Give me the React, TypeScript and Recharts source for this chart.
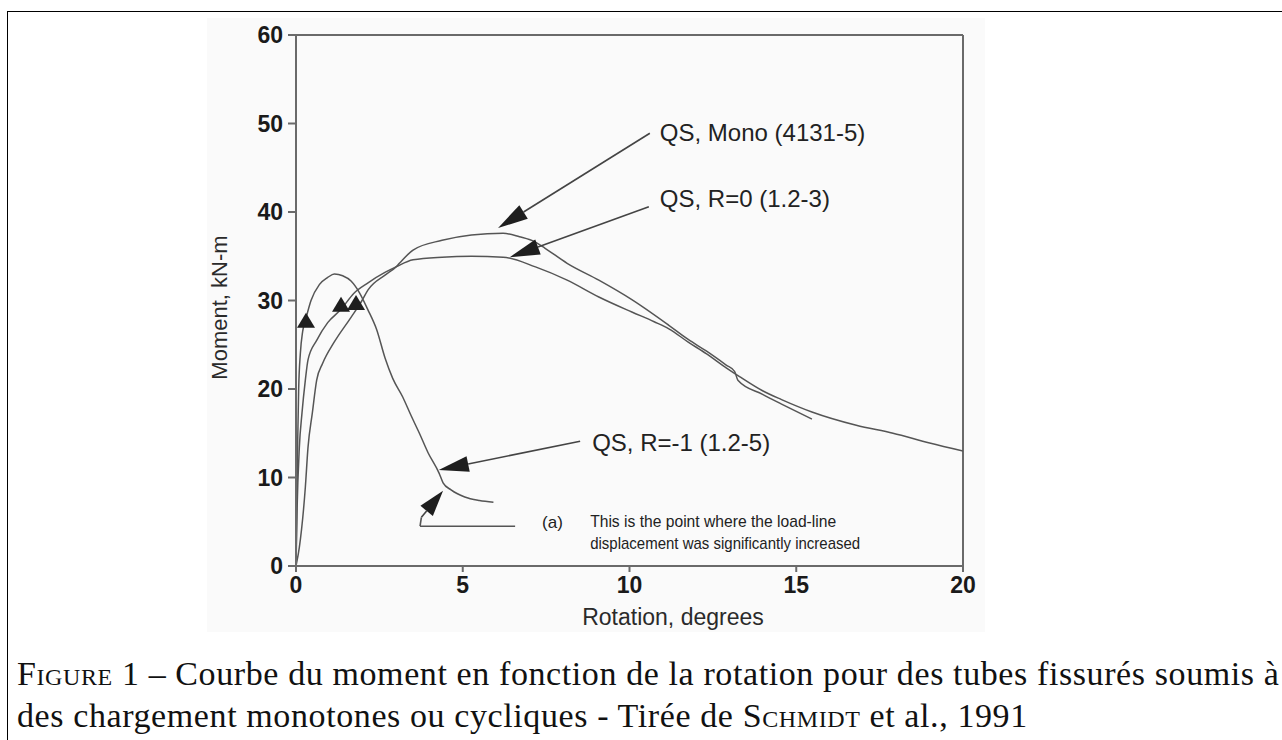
import React from 'react';
import {
  ComposedChart,
  Line,
  Scatter,
  XAxis,
  YAxis,
  ReferenceLine,
  ReferenceDot,
  Label,
} from 'recharts';

// ---------- data ----------
const xTicks = [0, 5, 10, 15, 20];
const yTicks = [0, 10, 20, 30, 40, 50, 60];

// QS, Mono (4131-5)
const monoSeries = [
  { x: 0, y: 0 }, { x: 0.1, y: 2.1 }, { x: 0.28, y: 8.9 }, { x: 0.36, y: 13.4 },
  { x: 0.49, y: 17.3 }, { x: 0.62, y: 21 }, { x: 0.8, y: 22.9 }, { x: 1.13, y: 25.2 },
  { x: 1.65, y: 28.1 }, { x: 1.98, y: 30 }, { x: 2.16, y: 31.2 }, { x: 2.68, y: 32.9 },
  { x: 3.0, y: 33.8 }, { x: 3.1, y: 34.2 }, { x: 3.51, y: 35.7 }, { x: 4.38, y: 36.8 },
  { x: 5.26, y: 37.4 }, { x: 6.21, y: 37.6 }, { x: 6.7, y: 37.2 }, { x: 7.18, y: 36.6 },
  { x: 7.47, y: 35.9 }, { x: 8.13, y: 34.2 }, { x: 9.08, y: 32.3 }, { x: 10.07, y: 30.1 },
  { x: 11.18, y: 27.2 }, { x: 11.76, y: 25.6 }, { x: 12.3, y: 24.3 }, { x: 12.9, y: 22.7 },
  { x: 13.15, y: 22.0 }, { x: 13.25, y: 21.0 }, { x: 13.99, y: 19.4 }, { x: 14.56, y: 18.3 },
  { x: 15.47, y: 16.6 },
];

// QS, R=0 (1.2-3)
const r0Series = [
  { x: 0, y: 0 }, { x: 0.03, y: 6 }, { x: 0.1, y: 13.4 }, { x: 0.18, y: 17.3 },
  { x: 0.28, y: 21 }, { x: 0.36, y: 23.3 }, { x: 0.62, y: 25.5 }, { x: 0.95, y: 27.5 },
  { x: 1.35, y: 29.0 }, { x: 1.73, y: 30.8 }, { x: 2.16, y: 32 }, { x: 2.68, y: 33.2 },
  { x: 3.0, y: 33.8 }, { x: 3.51, y: 34.6 }, { x: 4.38, y: 34.9 }, { x: 5.26, y: 35.0 },
  { x: 6.21, y: 34.9 }, { x: 7.18, y: 33.8 }, { x: 8.13, y: 32.3 }, { x: 9.08, y: 30.4 },
  { x: 10.07, y: 28.7 }, { x: 10.74, y: 27.6 }, { x: 11.18, y: 26.8 }, { x: 11.76, y: 25.3 },
  { x: 12.3, y: 24.0 }, { x: 12.9, y: 22.4 }, { x: 13.3, y: 21.4 }, { x: 13.99, y: 19.8 },
  { x: 14.56, y: 18.8 }, { x: 15.47, y: 17.4 }, { x: 16.8, y: 15.9 }, { x: 17.9, y: 15.0 },
  { x: 19.0, y: 13.9 }, { x: 20, y: 13.0 },
];

// QS, R=-1 (1.2-5)
const rm1Series = [
  { x: 0, y: 0 }, { x: 0.02, y: 6 }, { x: 0.05, y: 14 }, { x: 0.08, y: 20 },
  { x: 0.13, y: 24 }, { x: 0.2, y: 26.5 }, { x: 0.3, y: 28 }, { x: 0.45, y: 30 },
  { x: 0.7, y: 31.8 }, { x: 0.95, y: 32.6 }, { x: 1.15, y: 33 }, { x: 1.4, y: 32.8 },
  { x: 1.65, y: 32.2 }, { x: 1.9, y: 30.9 }, { x: 2.15, y: 29 }, { x: 2.42, y: 26.7 },
  { x: 2.67, y: 23.5 }, { x: 2.9, y: 21.2 }, { x: 3.2, y: 19.1 }, { x: 3.45, y: 17 },
  { x: 3.7, y: 15 }, { x: 3.96, y: 12.8 }, { x: 4.29, y: 10.5 }, { x: 4.41, y: 9.4 },
  { x: 4.65, y: 8.6 }, { x: 5.06, y: 7.8 }, { x: 5.5, y: 7.4 }, { x: 5.92, y: 7.2 },
];

// (a) markers on the curves
const markerPoints = [
  { x: 0.3, y: 27.6 },
  { x: 1.35, y: 29.4 },
  { x: 1.8, y: 29.6 },
];

// ---------- annotations ----------
const seriesLabels = ['QS, Mono (4131-5)', 'QS, R=0 (1.2-3)', 'QS, R=-1 (1.2-5)'];
const labelAnchors = [
  { x: 10.91, y: 49.0 },
  { x: 10.91, y: 41.5 },
  { x: 8.88, y: 13.9 },
];
const arrowSegments = [
  [{ x: 10.61, y: 48.9 }, { x: 6.06, y: 38.2 }],
  [{ x: 10.58, y: 40.6 }, { x: 6.41, y: 34.9 }],
  [{ x: 8.52, y: 14.1 }, { x: 4.28, y: 10.85 }],
];
const noteTag = '(a)';
const noteTagAnchor = { x: 7.38, y: 4.86 };
const noteLines = ['This is the point where the load-line', 'displacement was significantly increased'];
const noteAnchors = [
  { x: 8.82, y: 5.08 },
  { x: 8.82, y: 2.49 },
];
const noteWidths = [246, 270];
const legendBar = [{ x: 6.57, y: 4.5 }, { x: 3.72, y: 4.5 }];
const legendRise = [{ x: 3.72, y: 4.5 }, { x: 3.76, y: 5.5 }];
const legendArrow = [{ x: 3.76, y: 5.5 }, { x: 4.41, y: 8.5 }];

const xTitle = 'Rotation, degrees';
const yTitle = 'Moment, kN-m';

// ---------- styles ----------
const SANS = '"Liberation Sans", Arial, sans-serif';
const CURVE = '#555';
const AXIS = '#6a6a6a';

const arrowShape = (headLen: number, headW: number) => (p: any) => {
  const { x1, y1, x2, y2 } = p;
  const dx = x2 - x1;
  const dy = y2 - y1;
  const L = Math.hypot(dx, dy) || 1;
  const ux = dx / L;
  const uy = dy / L;
  const bx = x2 - ux * headLen;
  const by = y2 - uy * headLen;
  const nx = -uy;
  const ny = ux;
  return (
    <g>
      <line x1={x1} y1={y1} x2={bx} y2={by} stroke="#444" strokeWidth={1.6} />
      <polygon
        points={`${x2},${y2} ${bx + nx * headW},${by + ny * headW} ${bx - nx * headW},${by - ny * headW}`}
        fill="#1e1e1e"
      />
    </g>
  );
};

const plainLine = (p: any) => (
  <line x1={p.x1} y1={p.y1} x2={p.x2} y2={p.y2} stroke="#555" strokeWidth={1.6} />
);

const textShape = (txt: string, size: number, width?: number) => (p: any) => (
  <text
    x={p.cx}
    y={p.cy}
    dominantBaseline="central"
    fontFamily={SANS}
    fontSize={size}
    fill="#222"
    {...(width ? { textLength: width, lengthAdjust: 'spacingAndGlyphs' } : {})}
  >
    {txt}
  </text>
);

const triangle = (p: any) => {
  const { cx, cy } = p;
  return (
    <polygon
      points={`${cx},${cy - 9} ${cx - 9},${cy + 6} ${cx + 9},${cy + 6}`}
      fill="#1e1e1e"
    />
  );
};

export default function App() {
  return (
    <div
      style={{
        position: 'absolute',
        left: 0,
        top: 0,
        width: 1282,
        height: 740,
        overflow: 'hidden',
        background: '#fff',
      }}
    >
      <div
        style={{
          position: 'absolute',
          left: 207,
          top: 18,
          width: 778,
          height: 614,
          background: '#fafafa',
        }}
      />
      <div
        style={{
          position: 'absolute',
          left: 7,
          top: 11,
          width: 1275,
          height: 729,
          boxSizing: 'border-box',
          borderTop: '1px solid #000',
          borderLeft: '1px solid #000',
        }}
      />
      <div style={{ position: 'absolute', left: 0, top: 0 }}>
        <ComposedChart
          width={1282}
          height={740}
          margin={{ top: 35, right: 319, bottom: 114, left: 216 }}
        >
          <XAxis
            type="number"
            dataKey="x"
            domain={[0, 20]}
            ticks={xTicks}
            allowDataOverflow
            height={60}
            stroke={AXIS}
            strokeWidth={2}
            tickSize={6}
            tickMargin={5}
            tick={{ fill: '#1a1a1a', fontSize: 23, fontWeight: 700, fontFamily: SANS }}
          >
            <Label
              content={({ viewBox }: any) => {
                const cx = viewBox.x + 377;
                const cy = viewBox.y + 51;
                return (
                  <text
                    x={cx}
                    y={cy}
                    textAnchor="middle"
                    dominantBaseline="central"
                    fontFamily={SANS}
                    fontSize={23}
                    fill="#2a2a2a"
                  >
                    {xTitle}
                  </text>
                );
              }}
            />
          </XAxis>
          <YAxis
            type="number"
            domain={[0, 60]}
            ticks={yTicks}
            allowDataOverflow
            width={80}
            stroke={AXIS}
            strokeWidth={2}
            tickSize={8}
            tickMargin={5}
            tick={{ fill: '#1a1a1a', fontSize: 23, fontWeight: 700, fontFamily: SANS }}
          >
            <Label
              content={({ viewBox }: any) => {
                const cx = viewBox.x + 3;
                const cy = viewBox.y + viewBox.height / 2 + 7;
                return (
                  <text
                    x={cx}
                    y={cy}
                    transform={`rotate(-90 ${cx} ${cy})`}
                    textAnchor="middle"
                    dominantBaseline="central"
                    fontFamily={SANS}
                    fontSize={22}
                    fill="#2a2a2a"
                  >
                    {yTitle}
                  </text>
                );
              }}
            />
          </YAxis>

          <ReferenceLine y={60} stroke={AXIS} strokeWidth={2} />
          <ReferenceLine x={20} stroke={AXIS} strokeWidth={2} />

          <Line
            data={r0Series}
            dataKey="y"
            type="monotone"
            stroke={CURVE}
            strokeWidth={1.5}
            dot={false}
            isAnimationActive={false}
          />
          <Line
            data={monoSeries}
            dataKey="y"
            type="monotone"
            stroke={CURVE}
            strokeWidth={1.5}
            dot={false}
            isAnimationActive={false}
          />
          <Line
            data={rm1Series}
            dataKey="y"
            type="monotone"
            stroke={CURVE}
            strokeWidth={1.5}
            dot={false}
            isAnimationActive={false}
          />
          <Scatter data={markerPoints} dataKey="y" shape={triangle} isAnimationActive={false} />

          {arrowSegments.map((seg, i) => (
            <ReferenceLine key={`a${i}`} segment={seg} shape={arrowShape(30, 8)} />
          ))}
          <ReferenceLine segment={legendBar} shape={plainLine} />
          <ReferenceLine segment={legendRise} shape={plainLine} />
          <ReferenceLine segment={legendArrow} shape={arrowShape(26, 8)} />

          {seriesLabels.map((t, i) => (
            <ReferenceDot
              key={`l${i}`}
              x={labelAnchors[i].x}
              y={labelAnchors[i].y}
              r={0}
              shape={textShape(t, 24)}
            />
          ))}
          <ReferenceDot x={noteTagAnchor.x} y={noteTagAnchor.y} r={0} shape={textShape(noteTag, 17)} />
          {noteLines.map((t, i) => (
            <ReferenceDot
              key={`n${i}`}
              x={noteAnchors[i].x}
              y={noteAnchors[i].y}
              r={0}
              shape={textShape(t, 17, noteWidths[i])}
            />
          ))}
        </ComposedChart>
      </div>
      <div
        style={{
          position: 'absolute',
          left: 17,
          top: 653,
          fontFamily: '"Liberation Serif", "Times New Roman", serif',
          fontSize: 34,
          letterSpacing: '0.6px',
          lineHeight: '42px',
          color: '#111',
          whiteSpace: 'nowrap',
        }}
      >
        <div>
          <span style={{ fontVariant: 'small-caps' }}>Figure</span> 1 – Courbe du moment en fonction de la
          rotation pour des tubes fissurés soumis à
        </div>
        <div>
          des chargement monotones ou cycliques - Tirée de{' '}
          <span style={{ fontVariant: 'small-caps' }}>Schmidt</span> et al., 1991
        </div>
      </div>
    </div>
  );
}
